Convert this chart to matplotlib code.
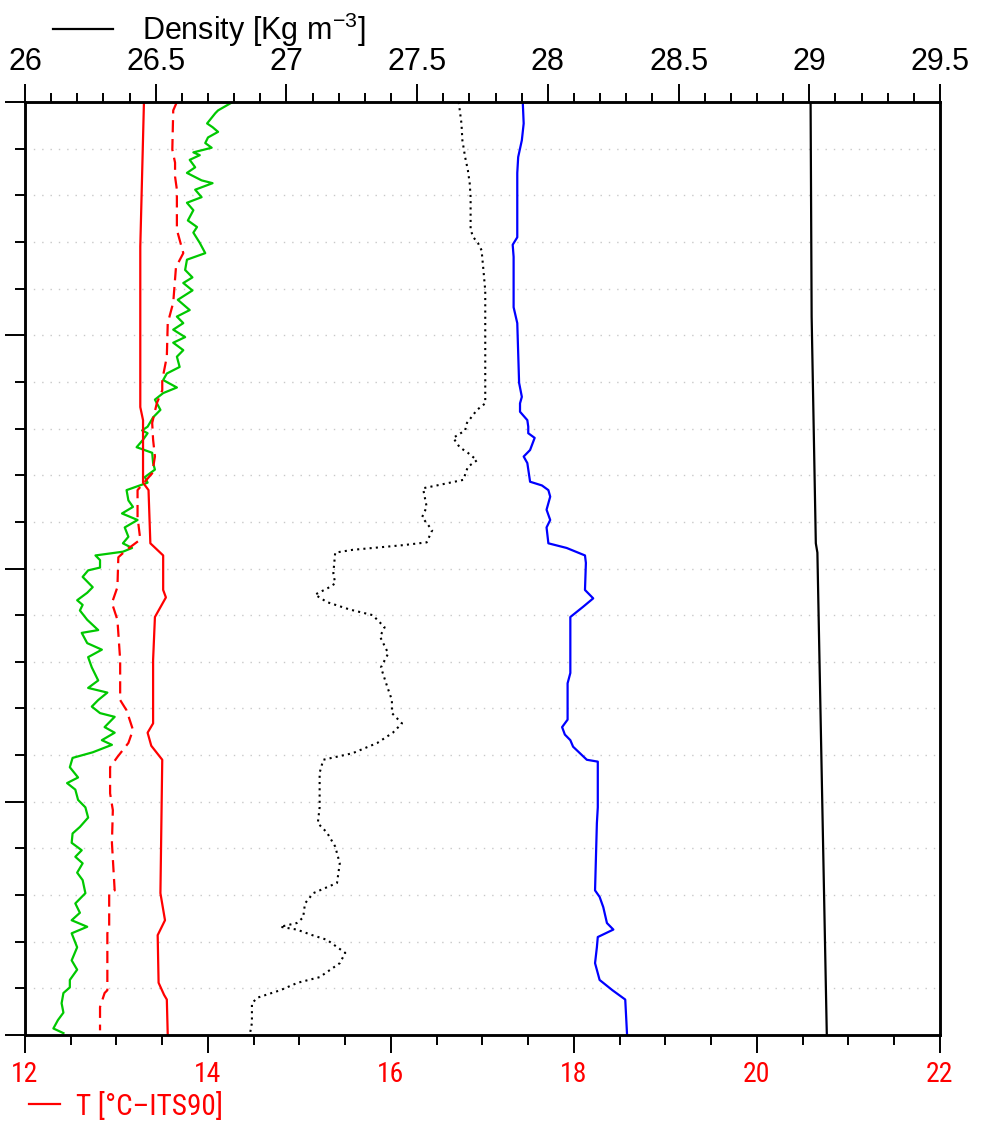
import numpy as np
import matplotlib
matplotlib.use('Agg')
import matplotlib.pyplot as plt
from matplotlib.ticker import MultipleLocator, NullFormatter

plt.rcParams['font.family'] = ['Liberation Sans', 'DejaVu Sans']
plt.rcParams['mathtext.fontset'] = 'custom'
plt.rcParams['mathtext.rm'] = 'Liberation Sans'
plt.rcParams['mathtext.it'] = 'Liberation Sans'
narrow = ['Liberation Sans Narrow', 'DejaVu Sans Condensed', 'Roboto Condensed',
          'Open Sans Condensed', 'Liberation Sans', 'DejaVu Sans']

# depth (hidden axis, 0 at top) and profiles
depth_temp = [0, 15.5, 32.7, 34.1, 40.8, 41.6, 47.3, 48.6, 52.3, 53.1, 55.2, 59.8, 66.6,
              67.6, 69.0, 70.5, 84.8, 87.7, 89.3, 94.4, 95.7, 96.2, 100]
temp = [13.30, 13.26, 13.26, 13.29, 13.29, 13.35, 13.37, 13.51, 13.51, 13.54, 13.42, 13.40, 13.40,
        13.34, 13.38, 13.50, 13.48, 13.53, 13.45, 13.46, 13.52, 13.55, 13.56]

depth_dash = [0, 0.9, 5.1, 6.5, 8.0, 9.4, 13.7, 16.2, 17.7, 21.5, 23.7, 27.3, 29.8, 30.9, 32.3,
              34.4, 36.2, 38.0, 39.8, 41.6, 44.5, 46.9, 48.0, 48.8, 52.0, 53.7, 55.5, 59.8, 64.1,
              65.2, 67.3, 68.7, 70.2, 71.3, 74.1, 75.9, 79.4, 84.5, 84.8, 88.4, 89.1, 95.2, 95.5,
              97.0, 99.5]
dash_vals = [13.66, 13.62, 13.61, 13.64, 13.64, 13.66, 13.66, 13.73, 13.65, 13.62, 13.56, 13.55,
             13.50, 13.50, 13.44, 13.39, 13.40, 13.42, 13.39, 13.23, 13.23, 13.26, 13.11, 13.02,
             13.01, 12.95, 13.01, 13.04, 13.04, 13.11, 13.18, 13.13, 13.01, 12.93, 12.93, 12.96,
             12.95, 12.98, 12.92, 12.92, 12.90, 12.90, 12.87, 12.82, 12.82]

depth_green = [0, 0.9, 1.2, 2.3, 2.7, 3.2, 3.8, 4.4, 4.9, 5.4, 5.7, 6.2, 7.0, 7.6, 8.4, 8.7, 9.4,
               10.2, 10.8, 11.6, 12.7, 13.4, 14.0, 15.1, 16.2, 16.9, 18.0, 18.8, 19.4, 20.2, 21.2,
               22.3, 23.0, 23.7, 24.4, 25.2, 25.8, 26.6, 27.3, 28.4, 29.1, 29.8, 30.6, 31.2, 31.9,
               33.0, 33.8, 34.8, 35.2, 35.5, 36.2, 37.0, 37.6, 38.7, 39.4, 40.2, 40.8, 41.6, 42.7,
               43.4, 44.1, 44.8, 45.6, 46.6, 47.3, 47.8, 48.2, 48.6, 49.1, 49.9, 50.2, 50.9, 52.0,
               52.6, 53.4, 53.9, 54.5, 55.5, 56.6, 56.9, 58.0, 58.7, 59.5, 60.6, 62.0, 62.8, 63.3,
               64.1, 64.8, 65.5, 65.9, 67.0, 67.6, 68.4, 68.9, 69.7, 70.3, 71.3, 72.4, 73.0, 73.7,
               74.8, 75.6, 76.7, 77.7, 78.4, 79.4, 80.2, 80.9, 81.6, 82.6, 83.4, 84.8, 85.9, 86.9,
               87.7, 88.4, 89.1, 90.6, 92.0, 93.0, 94.1, 94.9, 95.5, 96.6, 97.6, 98.4, 99.3, 99.8]
green_vals = [14.27, 14.11, 14.08, 13.99, 14.05, 14.11, 14.00, 13.97, 14.04, 13.84, 13.91, 13.80,
              13.86, 13.77, 13.93, 14.05, 13.86, 13.93, 13.77, 13.84, 13.78, 13.88, 13.84, 13.91,
              13.97, 13.77, 13.75, 13.83, 13.73, 13.83, 13.67, 13.80, 13.66, 13.73, 13.62, 13.75,
              13.62, 13.73, 13.66, 13.69, 13.55, 13.51, 13.66, 13.51, 13.42, 13.48, 13.40, 13.34,
              13.28, 13.34, 13.29, 13.22, 13.39, 13.40, 13.42, 13.31, 13.34, 13.11, 13.13, 13.18,
              13.06, 13.23, 13.09, 13.13, 13.07, 13.17, 13.07, 12.77, 12.82, 12.82, 12.69, 12.63,
              12.74, 12.68, 12.57, 12.63, 12.60, 12.68, 12.80, 12.62, 12.68, 12.84, 12.69, 12.73,
              12.80, 12.69, 12.90, 12.80, 12.73, 12.82, 12.98, 12.87, 12.98, 12.84, 12.95, 12.74,
              12.52, 12.49, 12.58, 12.46, 12.55, 12.58, 12.66, 12.69, 12.60, 12.52, 12.51, 12.62,
              12.55, 12.63, 12.57, 12.63, 12.66, 12.55, 12.60, 12.51, 12.68, 12.51, 12.57, 12.51,
              12.57, 12.49, 12.49, 12.42, 12.40, 12.42, 12.36, 12.31, 12.42]

depth_dot = [0, 2.3, 4.1, 5.9, 7.3, 8.7, 10.2, 13.7, 14.5, 15.1, 15.9, 18.0, 20.2, 30.9, 32.3,
             33.0, 34.4, 35.2, 36.0, 37.0, 37.6, 38.4, 39.1, 40.5, 41.1, 41.4, 43.4, 44.5, 45.9,
             47.2, 47.5, 48.0, 48.3, 50.5, 51.6, 52.1, 52.8, 53.6, 54.4, 55.0, 56.3, 57.3, 59.1,
             60.6, 62.7, 64.1, 65.5, 66.6, 67.6, 68.7, 69.8, 70.5, 71.9, 75.6, 77.3, 78.3, 79.8,
             81.6, 83.7, 84.8, 85.9, 87.4, 88.0, 88.4, 88.7, 89.3, 89.8, 91.2, 92.3, 93.8, 94.4,
             95.2, 96.0, 96.6, 98.7, 99.8]
dot_vals = [16.74, 16.77, 16.78, 16.81, 16.84, 16.86, 16.87, 16.87, 16.90, 16.95, 16.99, 17.01,
            17.03, 17.03, 17.03, 16.94, 16.83, 16.81, 16.68, 16.75, 16.84, 16.94, 16.84, 16.79,
            16.50, 16.35, 16.39, 16.34, 16.45, 16.39, 16.13, 15.58, 15.39, 15.37, 15.39, 15.31,
            15.17, 15.30, 15.55, 15.80, 15.93, 15.88, 15.97, 15.89, 15.96, 16.01, 16.01, 16.12,
            16.02, 15.85, 15.58, 15.26, 15.22, 15.22, 15.20, 15.30, 15.39, 15.44, 15.41, 15.15,
            15.06, 15.04, 14.97, 14.79, 14.97, 15.14, 15.30, 15.50, 15.44, 15.22, 14.98, 14.79,
            14.54, 14.48, 14.48, 14.46]

depth_blue = [0, 2.3, 4.1, 5.9, 7.6, 13.7, 14.5, 15.3, 16.6, 22.0, 23.7, 30.1, 31.6, 32.3, 33.2,
              34.1, 34.8, 35.5, 36.0, 37.3, 38.0, 38.7, 40.7, 41.1, 41.6, 42.3, 43.7, 44.8, 45.6,
              47.3, 47.8, 48.6, 49.4, 52.3, 53.2, 54.1, 55.2, 61.2, 62.3, 66.2, 67.0, 67.8, 68.4,
              69.1, 70.5, 70.7, 75.6, 77.3, 84.5, 85.2, 86.3, 88.0, 88.7, 89.5, 90.6, 92.3, 94.1,
              95.2, 96.2, 100]
blue_vals = [17.44, 17.45, 17.43, 17.39, 17.38, 17.38, 17.38, 17.33, 17.34, 17.34, 17.38, 17.40,
             17.43, 17.41, 17.41, 17.49, 17.50, 17.50, 17.57, 17.52, 17.45, 17.49, 17.52, 17.65,
             17.72, 17.74, 17.70, 17.74, 17.70, 17.72, 17.92, 18.12, 18.13, 18.12, 18.21, 18.10,
             17.96, 17.96, 17.93, 17.93, 17.87, 17.90, 17.96, 17.99, 18.14, 18.26, 18.26, 18.25,
             18.23, 18.28, 18.32, 18.36, 18.43, 18.26, 18.25, 18.23, 18.28, 18.42, 18.56, 18.58]

depth_rho = [0, 23.0, 47.3, 48.3, 100]
density = [29.005, 29.009, 29.025, 29.031, 29.067]

W, H = 982, 1127
fig = plt.figure(figsize=(W / 100, H / 100), dpi=100)
ax = fig.add_axes([25 / W, 1 - 1035 / H, 915 / W, 933 / H])
ax2 = ax.twiny()

for a in (ax, ax2):
    for s in a.spines.values():
        s.set_linewidth(1.8)

ax.set_ylim(100, 0)
ax.set_xlim(12, 22)
ax2.set_xlim(26, 29.5)

for yy in np.arange(5, 100, 5):
    ax.axhline(yy, color='#c8c8c8', lw=1.0, ls=(0, (1, 5)), zorder=0)

ax.plot(green_vals, depth_green, color='#00c800', lw=1.6)
ax.plot(dash_vals, depth_dash, color='red', lw=1.6, ls=(0, (5.5, 3)))
tline, = ax.plot(temp, depth_temp, color='red', lw=1.6)
ax.plot(dot_vals, depth_dot, color='black', lw=1.5, ls=(0, (1, 2)))
ax.plot(blue_vals, depth_blue, color='blue', lw=1.6)
rline, = ax2.plot(density, depth_rho, color='black', lw=1.6)

# bottom axis (temperature)
ax.xaxis.set_major_locator(MultipleLocator(2))
ax.xaxis.set_minor_locator(MultipleLocator(0.5))
ax.tick_params(axis='x', which='major', direction='out', length=13, width=1.4,
               labelsize=20, labelcolor='red', pad=6)
ax.tick_params(axis='x', which='minor', direction='out', length=7, width=1.4)
for lab in ax.get_xticklabels():
    lab.set_family(narrow)

# left axis: ticks only
ax.yaxis.set_major_locator(MultipleLocator(25))
ax.yaxis.set_minor_locator(MultipleLocator(5))
ax.yaxis.set_major_formatter(NullFormatter())
ax.tick_params(axis='y', which='major', direction='out', length=14.5, width=1.4)
ax.tick_params(axis='y', which='minor', direction='out', length=7, width=1.4)

# top axis (density)
ax2.xaxis.set_major_locator(MultipleLocator(0.5))
ax2.xaxis.set_minor_locator(MultipleLocator(0.1))
ax2.xaxis.set_major_formatter(matplotlib.ticker.FuncFormatter(lambda v, p: ('%g' % v)))
ax2.tick_params(axis='x', which='major', direction='out', length=13, width=1.4,
                labelsize=22, pad=5)
ax2.tick_params(axis='x', which='minor', direction='out', length=6.5, width=1.4)

leg1 = fig.legend([rline], ['Density [Kg m$^{-3}$]'], loc='center left',
                  bbox_to_anchor=(53 / W, 1 - 30 / H), frameon=False, fontsize=22,
                  handlelength=1.96, handletextpad=0.95, borderpad=0, borderaxespad=0)
leg2 = fig.legend([tline], ['T [°C–ITS90]'], loc='center left',
                  bbox_to_anchor=(29 / W, 1 - 1106 / H), frameon=False,
                  prop={'family': narrow, 'size': 21},
                  handlelength=1.07, handletextpad=0.55, borderpad=0, borderaxespad=0)
for t in leg2.get_texts():
    t.set_color('red')

fig.savefig('out.png', dpi=100)
